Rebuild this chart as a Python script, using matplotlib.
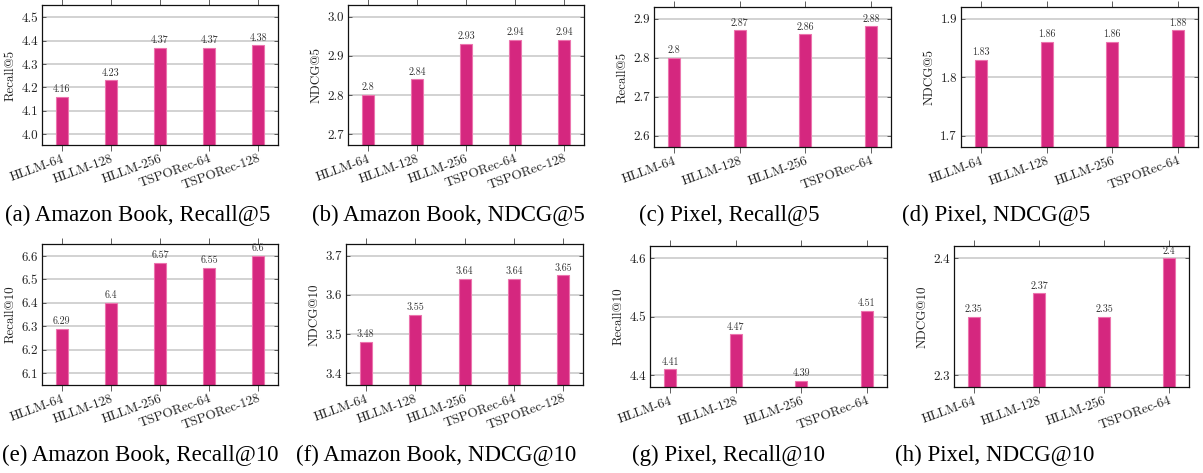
import matplotlib
matplotlib.use("Agg")
import matplotlib.pyplot as plt
from matplotlib.ticker import FormatStrFormatter, FixedLocator

W, H = 1203, 473
DPI = 100

# ---- data ----
models5 = ["HLLM-64", "HLLM-128", "HLLM-256", "TSPORec-64", "TSPORec-128"]
models4 = ["HLLM-64", "HLLM-128", "HLLM-256", "TSPORec-64"]

book_recall5 = [4.16, 4.23, 4.37, 4.37, 4.38]
book_ndcg5 = [2.8, 2.84, 2.93, 2.94, 2.94]
pixel_recall5 = [2.8, 2.87, 2.86, 2.88]
pixel_ndcg5 = [1.83, 1.86, 1.86, 1.88]
book_recall10 = [6.29, 6.4, 6.57, 6.55, 6.6]
book_ndcg10 = [3.48, 3.55, 3.64, 3.64, 3.65]
pixel_recall10 = [4.41, 4.47, 4.39, 4.51]
pixel_ndcg10 = [2.35, 2.37, 2.35, 2.4]

ylabels = ["Recall@5", "NDCG@5", "Recall@5", "NDCG@5",
           "Recall@10", "NDCG@10", "Recall@10", "NDCG@10"]
captions = ["(a) Amazon Book, Recall@5", "(b) Amazon Book, NDCG@5",
            "(c) Pixel, Recall@5", "(d) Pixel, NDCG@5",
            "(e) Amazon Book, Recall@10", "(f) Amazon Book, NDCG@10",
            "(g) Pixel, Recall@10", "(h) Pixel, NDCG@10"]
yticks_list = [[4.0, 4.1, 4.2, 4.3, 4.4, 4.5],
               [2.7, 2.8, 2.9, 3.0],
               [2.6, 2.7, 2.8, 2.9],
               [1.7, 1.8, 1.9],
               [6.1, 6.2, 6.3, 6.4, 6.5, 6.6],
               [3.4, 3.5, 3.6, 3.7],
               [4.4, 4.5, 4.6],
               [2.3, 2.4]]

panels = [
    (models5, book_recall5), (models5, book_ndcg5),
    (models4, pixel_recall5), (models4, pixel_ndcg5),
    (models5, book_recall10), (models5, book_ndcg10),
    (models4, pixel_recall10), (models4, pixel_ndcg10),
]

# ---- layout (pixels) ----
boxes = [(42, 278, 5, 145), (348, 584, 5, 145), (654, 891, 7, 147), (961, 1198, 7, 147),
         (42, 278, 244, 385), (346, 583, 244, 385), (650, 887, 246, 387), (954, 1189, 246, 387)]
ylims = [(3.953, 4.553), (2.672, 3.030), (2.571, 2.930), (1.681, 1.920),
         (6.050, 6.651), (3.370, 3.730), (4.380, 4.621), (2.290, 2.4105)]
cap_pos = [(138, 215), (448, 215), (729, 215), (996, 215),
           (140, 455), (436, 455), (728, 455), (995, 455)]

BAR = "#D5277F"
EDGE = "#EC74AE"
TXT = "#222222"
cm = ["cmr10", "DejaVu Serif"]
plt.rcParams["axes.formatter.use_mathtext"] = True
plt.rcParams["font.serif"] = ["Liberation Serif", "Times New Roman", "DejaVu Serif"]

fig = plt.figure(figsize=(W / DPI, H / DPI), dpi=DPI)

for i, ((cats, vals), (l, r, t, b)) in enumerate(zip(panels, boxes)):
    ax = fig.add_axes([l / W, 1 - b / H, (r - l) / W, (b - t) / H])
    n = len(cats)
    x = list(range(n))
    margin = 0.4 if n == 5 else 0.305
    spacing_px = (r - l) / (n - 1 + 2 * margin)
    bw = 12.0 / spacing_px
    ax.set_xlim(-margin, n - 1 + margin)
    ax.set_ylim(*ylims[i])
    ax.set_axisbelow(True)
    ax.yaxis.grid(True, color="#cfcfcf", lw=1.3)
    ax.bar(x, vals, width=bw, color=BAR, edgecolor=EDGE, linewidth=0.8, zorder=2)
    for xi, v in zip(x, vals):
        ax.annotate(f"{v:g}", (xi, v), xytext=(0, 2), textcoords="offset points",
                    ha="center", va="bottom", fontsize=7.2, color="#333333", family=cm)
    ax.set_xticks(x)
    ax.set_xticklabels(cats, rotation=20, ha="right", va="top", rotation_mode="anchor",
                       fontsize=9.6, family=cm, color=TXT)
    ax.yaxis.set_major_locator(FixedLocator(yticks_list[i]))
    ax.yaxis.set_major_formatter(FormatStrFormatter("%.1f"))
    for lab in ax.get_yticklabels():
        lab.set_family(cm)
        lab.set_fontsize(9.4)
        lab.set_color(TXT)
    ax.tick_params(axis="x", direction="out", top=True, bottom=True, length=4,
                   width=0.6, color="#444444", pad=1.5)
    ax.tick_params(axis="y", direction="in", left=True, right=True, length=3,
                   width=0.6, color="#444444", pad=3)
    for s in ax.spines.values():
        s.set_linewidth(0.9)
        s.set_color("#111111")
    ax.set_ylabel(ylabels[i], fontsize=9.4, family=cm, color=TXT)
    ax.yaxis.set_label_coords(-25.0 / (r - l), 0.5)

for (cx, cy), c in zip(cap_pos, captions):
    fig.text(cx / W, 1 - cy / H, c, ha="center", va="center", fontsize=16.5,
             family="serif", color="black")

fig.savefig("out.png", dpi=DPI)
